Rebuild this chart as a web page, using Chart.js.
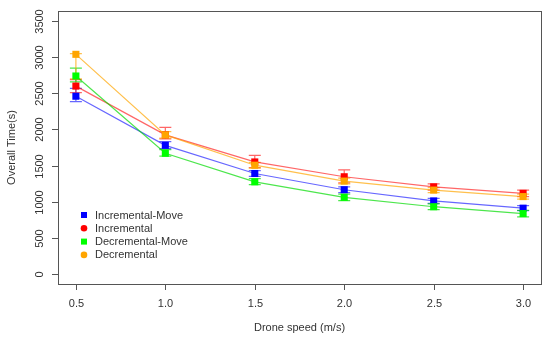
<!DOCTYPE html>
<html>
<head>
<meta charset="utf-8">
<script src="https://cdn.jsdelivr.net/npm/chart.js@4/dist/chart.umd.min.js"></script>
<style>
  html, body { margin: 0; padding: 0; background: #fff; }
  #wrap { width: 550px; height: 339px; }
</style>
</head>
<body>
<div id="wrap"><canvas id="speedChart" width="550" height="339"></canvas></div>
<script>
// data
const speeds = [0.5, 1.0, 1.5, 2.0, 2.5, 3.0];
const yTicks = [0, 500, 1000, 1500, 2000, 2500, 3000, 3500];
const xTickLabels = ['0.5', '1.0', '1.5', '2.0', '2.5', '3.0'];

const incMove = [2460, 1780, 1390, 1165, 1010, 910];
const incMoveLow = [2385, 1735, 1350, 1125, 975, 875];
const incMoveHigh = [2570, 1830, 1430, 1205, 1045, 945];

const inc = [2600, 1925, 1550, 1345, 1205, 1115];
const incLow = [2510, 1870, 1470, 1260, 1160, 1070];
const incHigh = [2690, 2030, 1640, 1440, 1245, 1160];

const decMove = [2740, 1670, 1275, 1060, 930, 835];
const decMoveLow = [2660, 1630, 1235, 1015, 890, 790];
const decMoveHigh = [2850, 1720, 1320, 1105, 970, 880];

const dec = [3040, 1925, 1505, 1285, 1160, 1070];
const decLow = [2700, 1880, 1465, 1245, 1125, 1035];
const decHigh = [3050, 1970, 1545, 1325, 1195, 1105];

const seriesNames = ['Incremental-Move', 'Incremental', 'Decremental-Move', 'Decremental'];
const seriesColors = ['#0000ff', '#ff0000', '#00ff00', '#ffa500'];
const lineColors = ['rgba(0,0,255,0.6)', 'rgba(255,0,0,0.6)', 'rgba(0,220,0,0.7)', 'rgba(255,165,0,0.7)'];
const legendShapes = ['rect', 'circle', 'rect', 'circle'];

const values = [incMove, inc, decMove, dec];
const lows = [incMoveLow, incLow, decMoveLow, decLow];
const highs = [incMoveHigh, incHigh, decMoveHigh, decHigh];

const FONT = '"Liberation Sans", Arial, sans-serif';
const TEXT = '#333';

function pts(arr) {
  return arr.map((v, i) => ({ x: speeds[i], y: v }));
}

// error bars, drawn under the markers
const errorBars = {
  id: 'errorBars',
  beforeDatasetsDraw(chart) {
    const { ctx, scales: { x, y } } = chart;
    ctx.save();
    ctx.lineWidth = 1.2;
    values.forEach((vals, s) => {
      ctx.strokeStyle = lineColors[s];
      speeds.forEach((sp, i) => {
        const px = x.getPixelForValue(sp);
        const top = y.getPixelForValue(highs[s][i]);
        const bot = y.getPixelForValue(lows[s][i]);
        ctx.beginPath();
        ctx.moveTo(px, top); ctx.lineTo(px, bot);
        ctx.moveTo(px - 6, top); ctx.lineTo(px + 6, top);
        ctx.moveTo(px - 6, bot); ctx.lineTo(px + 6, bot);
        ctx.stroke();
      });
    });
    ctx.restore();
  }
};

// R style frame, axes, titles and legend
const rFrame = {
  id: 'rFrame',
  afterDraw(chart) {
    const { ctx, chartArea: a, scales: { x, y } } = chart;
    ctx.save();
    ctx.strokeStyle = '#555';
    ctx.lineWidth = 1;
    ctx.strokeRect(a.left + 0.5, a.top + 0.5, a.right - a.left, a.bottom - a.top);

    ctx.fillStyle = TEXT;
    ctx.font = '11px ' + FONT;

    // x axis
    ctx.textAlign = 'center';
    ctx.textBaseline = 'middle';
    speeds.forEach((sp, i) => {
      const px = Math.round(x.getPixelForValue(sp)) + 0.5;
      ctx.beginPath();
      ctx.moveTo(px, a.bottom); ctx.lineTo(px, a.bottom + 6);
      ctx.stroke();
      ctx.fillText(xTickLabels[i], px, a.bottom + 20);
    });
    ctx.fillText('Drone speed (m/s)', (a.left + a.right) / 2, a.bottom + 44);

    // y axis
    yTicks.forEach(t => {
      const py = Math.round(y.getPixelForValue(t)) + 0.5;
      ctx.beginPath();
      ctx.moveTo(a.left, py); ctx.lineTo(a.left - 6, py);
      ctx.stroke();
      ctx.save();
      ctx.translate(a.left - 18, py);
      ctx.rotate(-Math.PI / 2);
      ctx.fillText(String(t), 0, 0);
      ctx.restore();
    });
    ctx.save();
    ctx.translate(12, (a.top + a.bottom) / 2);
    ctx.rotate(-Math.PI / 2);
    ctx.fillText('Overall Time(s)', 0, 0);
    ctx.restore();

    // legend
    ctx.textAlign = 'left';
    seriesNames.forEach((name, i) => {
      const ly = 215 + i * 13.3;
      ctx.fillStyle = seriesColors[i];
      if (legendShapes[i] === 'rect') {
        ctx.fillRect(81, ly - 3, 6, 6);
      } else {
        ctx.beginPath();
        ctx.arc(84, ly, 3.3, 0, Math.PI * 2);
        ctx.fill();
      }
      ctx.fillStyle = TEXT;
      ctx.fillText(name, 95, ly + 0.5);
    });
    ctx.restore();
  }
};

new Chart(document.getElementById('speedChart').getContext('2d'), {
  type: 'line',
  data: {
    datasets: values.map((vals, s) => ({
      label: seriesNames[s],
      data: pts(vals),
      order: values.length - s, // later series drawn on top, like R
      borderColor: lineColors[s],
      borderWidth: 1.2,
      backgroundColor: seriesColors[s],
      pointBackgroundColor: seriesColors[s],
      pointBorderColor: seriesColors[s],
      pointStyle: 'rect',
      pointRadius: 5,
      pointBorderWidth: 0,
      tension: 0,
      fill: false
    }))
  },
  options: {
    responsive: false,
    animation: false,
    events: [],
    layout: { padding: { left: 58, top: 11, right: 9, bottom: 55 } },
    plugins: {
      legend: { display: false },
      tooltip: { enabled: false }
    },
    scales: {
      x: { type: 'linear', min: 0.4, max: 3.1, display: false },
      y: { type: 'linear', min: -140, max: 3640, display: false }
    }
  },
  plugins: [errorBars, rFrame]
});
</script>
</body>
</html>
